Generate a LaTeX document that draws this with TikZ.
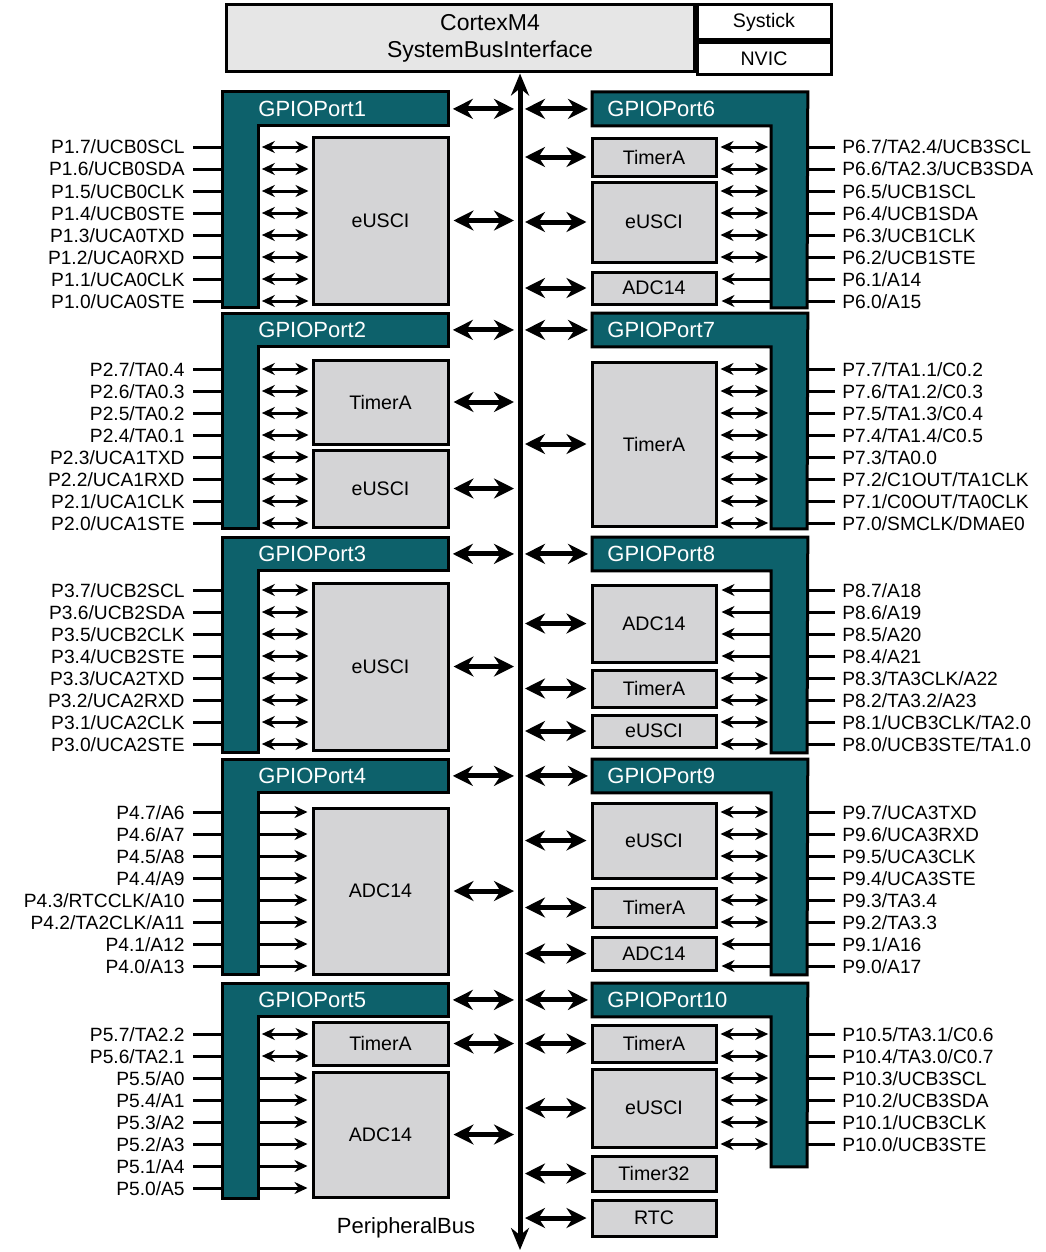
\documentclass[tikz,border=0pt]{standalone}
\usepackage{fontspec}
\setmainfont{Liberation Sans}
\usetikzlibrary{arrows.meta,calc,positioning}
\definecolor{portteal}{HTML}{0D616B}
\definecolor{blockgray}{HTML}{D4D4D6}
\definecolor{cpugray}{HTML}{E6E6E6}
\tikzset{
  hdrL/.style={rectangle,fill=portteal,minimum width=113pt,minimum height=16.5pt,inner ysep=0pt,
    inner xsep=18pt,text width=77pt,align=left,anchor=north west,text=white,font=\fontsize{11}{13}\selectfont},
  hdrR/.style={rectangle,fill=portteal,minimum width=107.5pt,minimum height=16.5pt,inner ysep=0pt,
    inner xsep=7.5pt,text width=92.5pt,align=left,anchor=north west,text=white,font=\fontsize{11}{13}\selectfont},
  barL/.style={rectangle,fill=portteal,minimum width=18pt,minimum height=#1,inner sep=0pt,anchor=north west},
  barR/.style={rectangle,fill=portteal,minimum width=17.5pt,minimum height=#1,inner sep=0pt,anchor=north east},
  portline/.style={draw=black,line width=1.5pt,line join=miter},
  blk/.style 2 args={rectangle,draw=black,line width=1.5pt,fill=blockgray,minimum width=#1,minimum height=#2,
    inner sep=0pt,font=\fontsize{9.8}{11}\selectfont},
  cpu/.style={rectangle,draw=black,line width=1.5pt,fill=cpugray,minimum width=234pt,minimum height=33.5pt,inner sep=0pt},
  cpuside/.style={rectangle,draw=black,line width=1.5pt,fill=white,minimum width=67pt,minimum height=#1,
    inner sep=0pt,font=\fontsize{9.8}{11}\selectfont},
  pinL/.style={anchor=east,inner xsep=4pt,inner ysep=0pt,text height=7pt,text depth=0pt,font=\fontsize{9.6}{11}\selectfont},
  pinR/.style={anchor=west,inner xsep=3.5pt,inner ysep=0pt,text height=7pt,text depth=0pt,font=\fontsize{9.6}{11}\selectfont},
  pinwire/.style={line width=1.5pt},
  biarrow/.style={{Stealth[length=6.5pt,width=6pt]}-{Stealth[length=6.5pt,width=6pt]},line width=1.5pt,
    shorten <=1.5pt,shorten >=1.5pt},
  inarrow/.style={-{Stealth[length=6.5pt,width=6pt]},line width=1.5pt,shorten >=2pt},
  busarrowL/.style={{Stealth[length=10pt,width=10pt]}-{Stealth[length=10pt,width=10pt]},line width=2.5pt,
    shorten <=2pt,shorten >=3pt},
  busarrowR/.style={{Stealth[length=10pt,width=10pt]}-{Stealth[length=10pt,width=10pt]},line width=2.5pt,
    shorten <=2.5pt,shorten >=2pt},
  busline/.style={{Stealth[length=11pt,width=9pt]}-{Stealth[length=11pt,width=9pt]},line width=2.5pt}
}
\begin{document}
\begin{tikzpicture}[x=0.5pt,y=-0.5pt]
\useasboundingbox (0,0) rectangle (1045,1252);
\node[cpu,label={[xshift=15pt,align=center,font=\fontsize{11.5}{13.5}\selectfont]center:CortexM4\\SystemBusInterface}] (cortex) at (460,38.5) {};
\node[cpuside=17.5pt,anchor=north west] (systick) at (cortex.north east) {Systick};
\node[cpuside=16pt,anchor=north west] (nvic) at (systick.south west) {NVIC};
\coordinate (bus) at (520,0);
\coordinate (busend) at (520,1250);
\draw[busline] (cortex.south -| bus) -- (busend);
\node[font=\fontsize{11}{13}\selectfont] (pbus) at (406,1228) {PeripheralBus};

% left ports
\node[barL=107.5pt] (bar1) at (222,92) {};
\node[hdrL] (gp1) at (222,92) {GPIOPort1};
\draw[portline] (gp1.north west) -- (gp1.north east) -- (gp1.south east) -- (gp1.south -| bar1.east) -- (bar1.south east) -- (bar1.south west) -- cycle;
\node[blk={67.5pt}{83.5pt}] (eu1) at (380.5,220.5) {eUSCI};
\foreach \lab [count=\i from 0] in {P1.7/UCB0SCL,P1.6/UCB0SDA,P1.5/UCB0CLK,P1.4/UCB0STE,P1.3/UCA0TXD,P1.2/UCA0RXD,P1.1/UCA0CLK,P1.0/UCA0STE}
  \node[pinL] (p1-\i) at (193,{147+22*\i}) {\lab};
\foreach \i in {0,...,7} {
  \draw[pinwire] (p1-\i.east) -- (p1-\i.east -| bar1.west);
  \draw[biarrow] (p1-\i.east -| bar1.east) -- (p1-\i.east -| eu1.west);
}
\draw[busarrowL] (gp1.east) -- (gp1.east -| bus);
\draw[busarrowL] (eu1.east) -- (eu1.east -| bus);

\node[barL=107.5pt] (bar2) at (222,313) {};
\node[hdrL] (gp2) at (222,313) {GPIOPort2};
\draw[portline] (gp2.north west) -- (gp2.north east) -- (gp2.south east) -- (gp2.south -| bar2.east) -- (bar2.south east) -- (bar2.south west) -- cycle;
\node[blk={67.5pt}{42pt}] (ta2) at (380.5,402) {TimerA};
\node[blk={67.5pt}{38.5pt}] (eu2) at (380.5,488.5) {eUSCI};
\foreach \lab [count=\i from 0] in {P2.7/TA0.4,P2.6/TA0.3,P2.5/TA0.2,P2.4/TA0.1,P2.3/UCA1TXD,P2.2/UCA1RXD,P2.1/UCA1CLK,P2.0/UCA1STE}
  \node[pinL] (p2-\i) at (193,{369+22*\i}) {\lab};
\foreach \i in {0,...,7} \draw[pinwire] (p2-\i.east) -- (p2-\i.east -| bar2.west);
\foreach \i in {0,...,3} \draw[biarrow] (p2-\i.east -| bar2.east) -- (p2-\i.east -| ta2.west);
\foreach \i in {4,...,7} \draw[biarrow] (p2-\i.east -| bar2.east) -- (p2-\i.east -| eu2.west);
\draw[busarrowL] (gp2.east) -- (gp2.east -| bus);
\draw[busarrowL] (ta2.east) -- (ta2.east -| bus);
\draw[busarrowL] (eu2.east) -- (eu2.east -| bus);

\node[barL=107.5pt] (bar3) at (222,537) {};
\node[hdrL] (gp3) at (222,537) {GPIOPort3};
\draw[portline] (gp3.north west) -- (gp3.north east) -- (gp3.south east) -- (gp3.south -| bar3.east) -- (bar3.south east) -- (bar3.south west) -- cycle;
\node[blk={67.5pt}{83.5pt}] (eu3) at (380.5,666.5) {eUSCI};
\foreach \lab [count=\i from 0] in {P3.7/UCB2SCL,P3.6/UCB2SDA,P3.5/UCB2CLK,P3.4/UCB2STE,P3.3/UCA2TXD,P3.2/UCA2RXD,P3.1/UCA2CLK,P3.0/UCA2STE}
  \node[pinL] (p3-\i) at (193,{590+22*\i}) {\lab};
\foreach \i in {0,...,7} {
  \draw[pinwire] (p3-\i.east) -- (p3-\i.east -| bar3.west);
  \draw[biarrow] (p3-\i.east -| bar3.east) -- (p3-\i.east -| eu3.west);
}
\draw[busarrowL] (gp3.east) -- (gp3.east -| bus);
\draw[busarrowL] (eu3.east) -- (eu3.east -| bus);

\node[barL=107.5pt] (bar4) at (222,759) {};
\node[hdrL] (gp4) at (222,759) {GPIOPort4};
\draw[portline] (gp4.north west) -- (gp4.north east) -- (gp4.south east) -- (gp4.south -| bar4.east) -- (bar4.south east) -- (bar4.south west) -- cycle;
\node[blk={67.5pt}{83pt}] (adc4) at (380.5,891) {ADC14};
\foreach \lab [count=\i from 0] in {P4.7/A6,P4.6/A7,P4.5/A8,P4.4/A9,P4.3/RTCCLK/A10,P4.2/TA2CLK/A11,P4.1/A12,P4.0/A13}
  \node[pinL] (p4-\i) at (193,{812+22*\i}) {\lab};
\foreach \i in {0,...,7} {
  \draw[pinwire] (p4-\i.east) -- (p4-\i.east -| bar4.west);
  \draw[inarrow] (p4-\i.east -| bar4.east) -- (p4-\i.east -| adc4.west);
}
\draw[busarrowL] (gp4.east) -- (gp4.east -| bus);
\draw[busarrowL] (adc4.east) -- (adc4.east -| bus);

\node[barL=107.5pt] (bar5) at (222,983) {};
\node[hdrL] (gp5) at (222,983) {GPIOPort5};
\draw[portline] (gp5.north west) -- (gp5.north east) -- (gp5.south east) -- (gp5.south -| bar5.east) -- (bar5.south east) -- (bar5.south west) -- cycle;
\node[blk={67.5pt}{21.5pt}] (ta5) at (380.5,1043.5) {TimerA};
\node[blk={67.5pt}{62.5pt}] (adc5) at (380.5,1134.5) {ADC14};
\foreach \lab [count=\i from 0] in {P5.7/TA2.2,P5.6/TA2.1,P5.5/A0,P5.4/A1,P5.3/A2,P5.2/A3,P5.1/A4,P5.0/A5}
  \node[pinL] (p5-\i) at (193,{1034+22*\i}) {\lab};
\foreach \i in {0,...,7} \draw[pinwire] (p5-\i.east) -- (p5-\i.east -| bar5.west);
\foreach \i in {0,1} \draw[biarrow] (p5-\i.east -| bar5.east) -- (p5-\i.east -| ta5.west);
\foreach \i in {2,...,7} \draw[inarrow] (p5-\i.east -| bar5.east) -- (p5-\i.east -| adc5.west);
\draw[busarrowL] (gp5.east) -- (gp5.east -| bus);
\draw[busarrowL] (ta5.east) -- (ta5.east -| bus);
\draw[busarrowL] (adc5.east) -- (adc5.east -| bus);

% right ports
\node[barR=107.5pt] (bar6) at (807,92) {};
\node[hdrR] (gp6) at (592,92) {GPIOPort6};
\draw[portline] (gp6.north west) -- (gp6.north east) -- (bar6.south east) -- (bar6.south west) -- (gp6.south -| bar6.west) -- (gp6.south west) -- cycle;
\node[blk={62pt}{19pt}] (ta6) at (654,157) {TimerA};
\node[blk={62pt}{40pt}] (eu6) at (654,222) {eUSCI};
\node[blk={62pt}{16pt}] (adc6) at (654,288) {ADC14};
\foreach \lab [count=\i from 0] in {P6.7/TA2.4/UCB3SCL,P6.6/TA2.3/UCB3SDA,P6.5/UCB1SCL,P6.4/UCB1SDA,P6.3/UCB1CLK,P6.2/UCB1STE,P6.1/A14,P6.0/A15}
  \node[pinR] (p6-\i) at (835,{147+22*\i}) {\lab};
\foreach \i in {0,...,7} \draw[pinwire] (p6-\i.west -| bar6.east) -- (p6-\i.west);
\foreach \i in {0,1} \draw[biarrow] (p6-\i.west -| ta6.east) -- (p6-\i.west -| bar6.west);
\foreach \i in {2,...,5} \draw[biarrow] (p6-\i.west -| eu6.east) -- (p6-\i.west -| bar6.west);
\foreach \i in {6,7} \draw[inarrow] (p6-\i.west -| bar6.west) -- (p6-\i.west -| adc6.east);
\draw[busarrowR] (gp6.west -| bus) -- (gp6.west);
\draw[busarrowR] (ta6.west -| bus) -- (ta6.west);
\draw[busarrowR] (eu6.west -| bus) -- (eu6.west);
\draw[busarrowR] (adc6.west -| bus) -- (adc6.west);

\node[barR=107.5pt] (bar7) at (807,313) {};
\node[hdrR] (gp7) at (592,313) {GPIOPort7};
\draw[portline] (gp7.north west) -- (gp7.north east) -- (bar7.south east) -- (bar7.south west) -- (gp7.south -| bar7.west) -- (gp7.south west) -- cycle;
\node[blk={62pt}{82pt}] (ta7) at (654,444) {TimerA};
\foreach \lab [count=\i from 0] in {P7.7/TA1.1/C0.2,P7.6/TA1.2/C0.3,P7.5/TA1.3/C0.4,P7.4/TA1.4/C0.5,P7.3/TA0.0,P7.2/C1OUT/TA1CLK,P7.1/C0OUT/TA0CLK,P7.0/SMCLK/DMAE0}
  \node[pinR] (p7-\i) at (835,{369+22*\i}) {\lab};
\foreach \i in {0,...,7} {
  \draw[pinwire] (p7-\i.west -| bar7.east) -- (p7-\i.west);
  \draw[biarrow] (p7-\i.west -| ta7.east) -- (p7-\i.west -| bar7.west);
}
\draw[busarrowR] (gp7.west -| bus) -- (gp7.west);
\draw[busarrowR] (ta7.west -| bus) -- (ta7.west);

\node[barR=107.5pt] (bar8) at (807,537) {};
\node[hdrR] (gp8) at (592,537) {GPIOPort8};
\draw[portline] (gp8.north west) -- (gp8.north east) -- (bar8.south east) -- (bar8.south west) -- (gp8.south -| bar8.west) -- (gp8.south west) -- cycle;
\node[blk={62pt}{38.5pt}] (adc8) at (654,623.5) {ADC14};
\node[blk={62pt}{18.5pt}] (ta8) at (654,688.5) {TimerA};
\node[blk={62pt}{16pt}] (eu8) at (654,731) {eUSCI};
\foreach \lab [count=\i from 0] in {P8.7/A18,P8.6/A19,P8.5/A20,P8.4/A21,P8.3/TA3CLK/A22,P8.2/TA3.2/A23,P8.1/UCB3CLK/TA2.0,P8.0/UCB3STE/TA1.0}
  \node[pinR] (p8-\i) at (835,{590+22*\i}) {\lab};
\foreach \i in {0,...,7} \draw[pinwire] (p8-\i.west -| bar8.east) -- (p8-\i.west);
\foreach \i in {0,...,3} \draw[inarrow] (p8-\i.west -| bar8.west) -- (p8-\i.west -| adc8.east);
\foreach \i in {4,5} \draw[biarrow] (p8-\i.west -| ta8.east) -- (p8-\i.west -| bar8.west);
\foreach \i in {6,7} \draw[biarrow] (p8-\i.west -| eu8.east) -- (p8-\i.west -| bar8.west);
\draw[busarrowR] (gp8.west -| bus) -- (gp8.west);
\draw[busarrowR] (adc8.west -| bus) -- (adc8.west);
\draw[busarrowR] (ta8.west -| bus) -- (ta8.west);
\draw[busarrowR] (eu8.west -| bus) -- (eu8.west);

\node[barR=107.5pt] (bar9) at (807,759) {};
\node[hdrR] (gp9) at (592,759) {GPIOPort9};
\draw[portline] (gp9.north west) -- (gp9.north east) -- (bar9.south east) -- (bar9.south west) -- (gp9.south -| bar9.west) -- (gp9.south west) -- cycle;
\node[blk={62pt}{37.5pt}] (eu9) at (654,840.5) {eUSCI};
\node[blk={62pt}{19.5pt}] (ta9) at (654,907.5) {TimerA};
\node[blk={62pt}{16.5pt}] (adc9) at (654,953.5) {ADC14};
\foreach \lab [count=\i from 0] in {P9.7/UCA3TXD,P9.6/UCA3RXD,P9.5/UCA3CLK,P9.4/UCA3STE,P9.3/TA3.4,P9.2/TA3.3,P9.1/A16,P9.0/A17}
  \node[pinR] (p9-\i) at (835,{812+22*\i}) {\lab};
\foreach \i in {0,...,7} \draw[pinwire] (p9-\i.west -| bar9.east) -- (p9-\i.west);
\foreach \i in {0,...,3} \draw[biarrow] (p9-\i.west -| eu9.east) -- (p9-\i.west -| bar9.west);
\foreach \i in {4,5} \draw[biarrow] (p9-\i.west -| ta9.east) -- (p9-\i.west -| bar9.west);
\foreach \i in {6,7} \draw[inarrow] (p9-\i.west -| bar9.west) -- (p9-\i.west -| adc9.east);
\draw[busarrowR] (gp9.west -| bus) -- (gp9.west);
\draw[busarrowR] (eu9.west -| bus) -- (eu9.west);
\draw[busarrowR] (ta9.west -| bus) -- (ta9.west);
\draw[busarrowR] (adc9.west -| bus) -- (adc9.west);

\node[barR=91.5pt] (bar10) at (807,983) {};
\node[hdrR] (gp10) at (592,983) {GPIOPort10};
\draw[portline] (gp10.north west) -- (gp10.north east) -- (bar10.south east) -- (bar10.south west) -- (gp10.south -| bar10.west) -- (gp10.south west) -- cycle;
\node[blk={62pt}{18.5pt}] (ta10) at (654,1043.5) {TimerA};
\node[blk={62pt}{39pt}] (eu10) at (654,1108) {eUSCI};
\node[blk={62pt}{17.5pt}] (tm32) at (654,1173.5) {Timer32};
\node[blk={62pt}{18pt}] (rtc) at (654,1218) {RTC};
\foreach \lab [count=\i from 0] in {P10.5/TA3.1/C0.6,P10.4/TA3.0/C0.7,P10.3/UCB3SCL,P10.2/UCB3SDA,P10.1/UCB3CLK,P10.0/UCB3STE}
  \node[pinR] (p10-\i) at (835,{1034+22*\i}) {\lab};
\foreach \i in {0,...,5} \draw[pinwire] (p10-\i.west -| bar10.east) -- (p10-\i.west);
\foreach \i in {0,1} \draw[biarrow] (p10-\i.west -| ta10.east) -- (p10-\i.west -| bar10.west);
\foreach \i in {2,...,5} \draw[biarrow] (p10-\i.west -| eu10.east) -- (p10-\i.west -| bar10.west);
\draw[busarrowR] (gp10.west -| bus) -- (gp10.west);
\draw[busarrowR] (ta10.west -| bus) -- (ta10.west);
\draw[busarrowR] (eu10.west -| bus) -- (eu10.west);
\draw[busarrowR] (tm32.west -| bus) -- (tm32.west);
\draw[busarrowR] (rtc.west -| bus) -- (rtc.west);
\end{tikzpicture}
\end{document}
